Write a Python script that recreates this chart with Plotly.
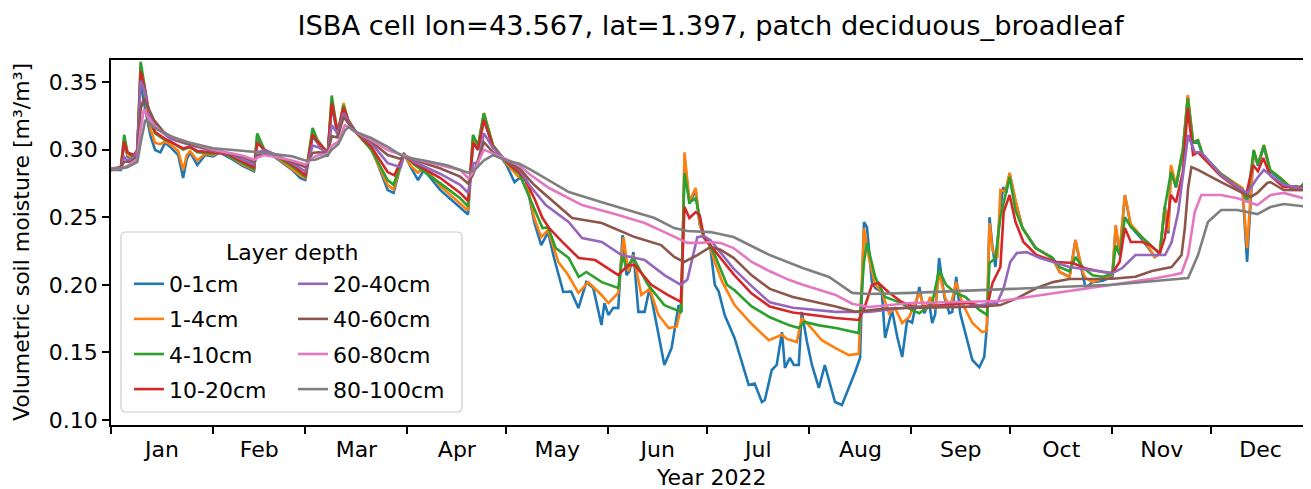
import pandas as pd
import plotly.graph_objects as go

START = pd.Timestamp("2022-01-01")

layer_names = ["0-1cm", "1-4cm", "4-10cm", "10-20cm", "20-40cm", "40-60cm", "60-80cm", "80-100cm"]
layer_colors = ["#1f77b4", "#ff7f0e", "#2ca02c", "#d62728", "#9467bd", "#8c564b", "#e377c2", "#7f7f7f"]

# day offsets (from 2022-01-01) and volumetric soil moisture values
d_0_1 = [0, 3, 4, 5, 7, 8, 9, 10, 12, 13.4, 15, 16.4, 18, 20.4, 21.9, 23, 24, 26.2, 28.6, 31, 33, 36, 40, 43.4, 44.4, 46.5, 50, 55, 57.5, 59,
         61.2, 62.7, 65.8, 67, 68.8, 70.6, 72, 74.3, 79, 84, 85.8, 88.9, 91, 93.2, 95, 100, 106, 108.4, 109.9, 111.4, 113.2, 116, 120,
         122.5, 124, 126, 128.5, 130.6, 132.7, 134.5, 137.3, 139.7, 141.9, 144.3, 146.4, 148.9, 149.8, 151, 152.5, 154, 155.3, 156.5,
         157.4, 158.6, 160.1, 162, 163.5, 166.2, 168, 170.2, 172.3, 173.2, 174.1, 175.6, 177.5, 178.7, 179.9, 181.7, 183.3, 184.5,
         186.3, 189.3, 191.5, 193.6, 195.4, 197.6, 198.5, 200.6, 202.1, 203.7, 204.6, 206.1, 207.3, 208.8, 209.7, 211.3, 212.8,
         214.9, 216.7, 218.3, 219.8, 221.9, 224, 225.9, 227.4, 228.6, 229.5, 231, 232, 234, 235, 237.1, 238.7, 240.2, 241.7, 243.2,
         245.4, 246.9, 248.4, 249.3, 250.2, 251.4, 253, 254.5, 255.4, 256.6, 257.8, 259.4, 261.5, 263.6, 265.1, 266, 266.7, 267.6,
         268.5, 270, 270.9, 271.8, 272.8, 274.6, 276.7, 280.7, 285.8, 288, 291, 292.8, 294, 295.9, 298, 301.1, 304, 305, 306.2,
         307.8, 309.6, 313.2, 316.9, 318.4, 319.9, 321, 321.8, 323.3, 325.4, 326.9, 328.5, 330, 331.5, 336.7, 343.5, 344.9, 346.9,
         348.2, 350, 351.9, 355, 358, 361, 364]
v_0_1 = [0.285, 0.285, 0.305, 0.295, 0.292, 0.300, 0.352, 0.335, 0.310, 0.2997, 0.298, 0.305, 0.302, 0.296, 0.279, 0.293, 0.298, 0.2886,
         0.296, 0.295, 0.298, 0.294, 0.288, 0.284, 0.309, 0.299, 0.294, 0.285, 0.279, 0.2775,
         0.310, 0.305, 0.295, 0.333, 0.310, 0.331, 0.320, 0.313, 0.302, 0.2701, 0.268, 0.2975, 0.287, 0.2775, 0.285, 0.270, 0.257,
         0.252, 0.305, 0.300, 0.322, 0.302, 0.289,
         0.276, 0.279, 0.277, 0.2464, 0.2294, 0.239, 0.2198, 0.1947, 0.195, 0.1828, 0.202, 0.1976, 0.1703, 0.1865, 0.1777, 0.183,
         0.1828, 0.2368, 0.2072, 0.210, 0.2242, 0.180, 0.180, 0.1976, 0.165, 0.1407, 0.1533, 0.185, 0.180, 0.292, 0.260, 0.270,
         0.245, 0.236, 0.233, 0.200, 0.195,
         0.1777, 0.1607, 0.143, 0.1259, 0.127, 0.1133, 0.1148, 0.137, 0.1407, 0.165, 0.1385, 0.1459, 0.1407, 0.1407, 0.180, 0.1577,
         0.1407, 0.1237, 0.1407, 0.1259, 0.1133, 0.1111, 0.1237, 0.1355, 0.1459, 0.2464, 0.2427, 0.202, 0.1976, 0.195, 0.1607,
         0.1814, 0.1614, 0.1466, 0.174, 0.172,
         0.1984, 0.179, 0.1865, 0.1717, 0.178, 0.2198, 0.191, 0.179, 0.180, 0.2058, 0.179, 0.1643, 0.1444, 0.139, 0.1466, 0.1717,
         0.250, 0.228, 0.2132, 0.2568, 0.2723, 0.268, 0.2827, 0.262, 0.242, 0.2272, 0.2198, 0.2095, 0.2058, 0.2331, 0.218, 0.1976,
         0.202, 0.203, 0.206, 0.243, 0.222,
         0.2664, 0.243, 0.233, 0.2206, 0.223, 0.258, 0.238, 0.287, 0.272, 0.298, 0.339, 0.305, 0.306, 0.295, 0.282, 0.271, 0.2169,
         0.299, 0.288, 0.302, 0.284, 0.278, 0.272, 0.271, 0.276]

d_1_4 = [0, 3, 4, 5, 7, 8, 9, 10, 12, 13.4, 15, 16.4, 18, 20.4, 21.9, 23, 24, 26.2, 28.6, 31, 33, 36, 40, 43.4, 44.4, 46.5, 50, 55, 57.5, 59,
         61.2, 62.7, 65.8, 67, 68.8, 70.6, 72, 74.3, 79, 84, 85.8, 88.9, 91, 93.2, 95, 100, 106, 108.4, 109.9, 111.4, 113.2, 116, 120,
         123.6, 126, 128.5, 130.6, 132.7, 135.8, 138.8, 141.9, 144.9, 148.9, 151, 154, 155.6, 157, 158.6, 161, 163.5, 166.2, 169.3,
         171.7, 173.2, 174.1, 175.6, 177.5, 178.7, 179.9, 181.7, 183.3, 185.6, 189.3, 194.5, 199.7, 203.7, 205.2, 208.2, 209.7,
         211.9, 215.8, 219.8, 224, 227, 228.6, 230.1, 232, 234, 236.2, 238, 240.2, 242.3, 245.4, 247.2, 248.7, 250.2, 251.4, 253.3,
         254.8, 256.6, 258.4, 261.5, 264.5, 265.8, 266.7, 267.6, 269.1, 270, 271.5, 272.8, 274.6, 276.7, 280.7, 285.8, 288, 291,
         292.8, 295, 295.9, 298, 301.1, 304, 305, 306.2, 307.8, 309.6, 313.2, 316.9, 318.4, 319.9, 321, 321.8, 323.3, 325.4, 326.9,
         328.5, 330, 331.5, 336.7, 343.5, 344.9, 346.9, 348.2, 350, 351.9, 355, 358, 361, 364]
v_1_4 = [0.285, 0.286, 0.308, 0.296, 0.293, 0.300, 0.362, 0.345, 0.315, 0.305, 0.304, 0.306, 0.304, 0.299, 0.285, 0.296, 0.299, 0.292,
         0.297, 0.296, 0.299, 0.295, 0.289, 0.285, 0.311, 0.300, 0.295, 0.286, 0.281, 0.279,
         0.314, 0.306, 0.296, 0.337, 0.311, 0.3345, 0.321, 0.313, 0.300, 0.2738, 0.2705, 0.2975, 0.288, 0.283, 0.287, 0.273, 0.260,
         0.255, 0.310, 0.302, 0.327, 0.303, 0.290,
         0.280, 0.278, 0.2494, 0.2353, 0.2405, 0.2169, 0.2072, 0.194, 0.202, 0.1925, 0.1865, 0.194, 0.2353, 0.210, 0.222, 0.1925,
         0.197, 0.1777, 0.168, 0.169, 0.185, 0.298, 0.262, 0.2716, 0.2457, 0.2353, 0.2294, 0.2169, 0.202, 0.185, 0.171, 0.159,
         0.163, 0.160, 0.1577, 0.1755, 0.170, 0.159, 0.1533, 0.148, 0.149, 0.242, 0.2198, 0.200, 0.195, 0.179, 0.1828, 0.1717,
         0.1762, 0.194, 0.1814, 0.191, 0.182, 0.2095, 0.190, 0.1836, 0.202, 0.1865, 0.1717, 0.165, 0.166, 0.2457, 0.2257, 0.220,
         0.2701, 0.269, 0.2827, 0.262, 0.242, 0.2272, 0.2198, 0.2095, 0.2058, 0.2331, 0.2095, 0.205, 0.202, 0.205, 0.2072, 0.2442,
         0.225, 0.2664, 0.245, 0.2346, 0.2206, 0.224, 0.2575, 0.240, 0.2886, 0.2738, 0.300, 0.3404, 0.3055, 0.307, 0.296, 0.2827,
         0.2716, 0.2272, 0.2997, 0.289, 0.3034, 0.285, 0.279, 0.2723, 0.2716, 0.2775]

d_4_10 = [0, 3, 4, 5, 7, 8, 9, 10, 12, 13.4, 16.4, 18, 20.4, 21.9, 24, 26.2, 31, 33, 36, 40, 43.4, 44.4, 46.5, 50, 55, 59,
          61.2, 62.7, 65.8, 67, 68.8, 70.6, 72, 74.3, 79, 84, 85.8, 88.9, 92, 100, 106, 108.4, 109.9, 111.4, 113.2, 116, 120,
          124, 128.5, 131, 132.7, 135, 139, 142, 144.3, 149, 154, 155.3, 156.5, 158.6, 163, 168, 173, 174.1, 175.6, 177.5, 178.7,
          179.9, 181.7, 183.3, 187, 189.3, 194.5, 200, 206, 208.8, 210.5, 215, 220, 227, 228.6, 229.5, 232, 235, 240, 243, 245.4,
          249.3, 251.4, 253.5, 256.3, 259.4, 263.6, 266, 266.7, 268.5, 270, 271, 272.8, 274.6, 276.7, 280.7, 285.8, 288, 291, 292.8,
          295, 298, 301.1, 304, 305, 306.2, 307.8, 309.6, 313.2, 316.9, 318.4, 319.9, 321.8, 323.3, 325.4, 326.9, 328.5, 330, 331.5,
          336.7, 343.5, 344.9, 346.9, 348.2, 350, 351.9, 355, 358, 359.8, 361, 363, 364]
v_4_10 = [0.285, 0.287, 0.311, 0.298, 0.294, 0.300, 0.365, 0.350, 0.320, 0.312, 0.307, 0.306, 0.302, 0.300, 0.302, 0.298, 0.297, 0.299,
          0.295, 0.290, 0.2855, 0.312, 0.300, 0.2955, 0.2875, 0.280,
          0.316, 0.307, 0.2975, 0.340, 0.312, 0.333, 0.322, 0.313, 0.300, 0.2775, 0.274, 0.2965, 0.289, 0.275, 0.264, 0.258, 0.311,
          0.303, 0.327, 0.303, 0.291,
          0.282, 0.2568, 0.242, 0.2425, 0.2272, 0.2198, 0.2058, 0.2095, 0.202, 0.1976, 0.222, 0.2124, 0.2198, 0.200, 0.185, 0.180,
          0.2827, 0.261, 0.264, 0.250, 0.2353, 0.2294, 0.222, 0.200, 0.196, 0.184, 0.176, 0.170, 0.168, 0.1725, 0.170, 0.168, 0.1643,
          0.2169, 0.231, 0.2058, 0.191, 0.1865, 0.1814, 0.179, 0.1865, 0.2109, 0.200, 0.194, 0.191, 0.1814, 0.1777, 0.2161, 0.2198,
          0.250, 0.2605, 0.2797, 0.255, 0.242, 0.2272, 0.220, 0.213, 0.210, 0.2206, 0.213, 0.207, 0.206, 0.208, 0.229, 0.222, 0.250,
          0.243, 0.235, 0.227, 0.223, 0.2568, 0.2834, 0.2723, 0.300, 0.338, 0.3055, 0.307, 0.296, 0.2827, 0.270, 0.261, 0.2997,
          0.289, 0.3034, 0.285, 0.279, 0.2723, 0.273, 0.272, 0.2775, 0.272]

d_10_20 = [0, 3, 4, 5, 7, 8, 9, 10, 12, 13.4, 16.4, 18, 21.9, 24, 26.2, 31, 36, 40, 43.4, 44.4, 46.5, 50, 55, 59,
           61.2, 62.7, 65.8, 67, 68.8, 70.6, 72, 74.3, 79, 84, 86, 88.9, 92, 100, 106, 108.4, 109.9, 111.4, 113.2, 116, 120,
           124, 125.5, 128.5, 131, 133, 137, 142, 147, 154, 157, 159, 164, 169, 173, 174.1, 175.6, 177.5, 178.7, 180, 182, 186,
           189.3, 194.5, 200, 207, 220, 227, 228.6, 231, 233, 236, 240, 244, 250, 260, 266, 267.6, 270, 271, 272.8, 274.6, 277,
           281, 287, 292, 296, 301.1, 304, 306.2, 307.8, 309.6, 313, 315.4, 318.4, 319.9, 321.8, 323.3, 325.4, 326.9, 328.5, 330,
           336.7, 341.6, 344.6, 346.7, 348.2, 349.8, 351.9, 355.9, 361.9, 364]
v_10_20 = [0.285, 0.287, 0.306, 0.298, 0.296, 0.300, 0.358, 0.348, 0.322, 0.313, 0.308, 0.306, 0.301, 0.302, 0.299, 0.298, 0.296, 0.291,
           0.287, 0.305, 0.300, 0.296, 0.289, 0.281,
           0.311, 0.306, 0.2975, 0.3345, 0.313, 0.331, 0.322, 0.313, 0.302, 0.2834, 0.281, 0.296, 0.290, 0.279, 0.268, 0.262, 0.305,
           0.300, 0.322, 0.302, 0.291,
           0.283, 0.279, 0.264, 0.2494, 0.242, 0.2317, 0.2198, 0.2183, 0.2072, 0.2146, 0.2146, 0.200, 0.1925, 0.1873, 0.2575, 0.2494,
           0.2538, 0.2516, 0.2353, 0.229, 0.2169, 0.207, 0.1935, 0.184, 0.1795, 0.1755, 0.174, 0.182, 0.200, 0.2013, 0.1947, 0.1873,
           0.1836, 0.1845, 0.1865, 0.1836, 0.2013, 0.2132, 0.2538, 0.2664, 0.2464, 0.2317, 0.222, 0.2169, 0.2161, 0.212, 0.2095,
           0.2087, 0.2169, 0.242, 0.2317, 0.2317, 0.2294, 0.2235, 0.2346, 0.2664, 0.261, 0.2834, 0.3307, 0.296, 0.298, 0.281, 0.272,
           0.2664, 0.2886, 0.284, 0.2938, 0.281, 0.2723, 0.2723, 0.2716]

d_20_40 = [0, 3, 4, 5, 7, 8, 9, 10, 12, 14, 18, 24, 31, 36, 40, 43.4, 44.4, 46.5, 50, 55, 59, 61.2, 62.7, 65.8, 67, 68.8, 70.6, 72,
           74.3, 79, 84, 88, 89, 92, 100, 106, 108.4, 110, 111.4, 113.2, 116, 120, 124, 127, 132, 139, 143, 149, 155, 162, 168, 173,
           175, 178, 180, 182, 189, 194.5, 200, 207, 220, 230, 243, 260, 269, 271, 273, 275, 278, 282, 291, 297, 304, 307, 311, 320,
           322, 324, 327, 329, 331, 337, 342, 345, 348, 350, 352, 356, 364]
v_20_40 = [0.285, 0.287, 0.2945, 0.292, 0.294, 0.300, 0.351, 0.345, 0.323, 0.316, 0.308, 0.3035, 0.299, 0.297, 0.2925, 0.289, 0.298,
           0.2995, 0.2965, 0.290, 0.284, 0.303, 0.302, 0.2975, 0.318, 0.312, 0.327, 0.321, 0.313, 0.305, 0.290, 0.287, 0.296, 0.291,
           0.282, 0.274, 0.268, 0.290, 0.290, 0.312, 0.301, 0.292, 0.285, 0.2738, 0.259, 0.2464, 0.2346, 0.2317, 0.222, 0.2183,
           0.2072, 0.200, 0.204, 0.2353, 0.236, 0.233, 0.212, 0.199, 0.187, 0.183, 0.180, 0.180, 0.1836, 0.184, 0.1865, 0.1976,
           0.2169, 0.2235, 0.2242, 0.2198, 0.2132, 0.2109, 0.2087, 0.2124, 0.222, 0.222, 0.2317, 0.2538, 0.3108, 0.2982, 0.298,
           0.2812, 0.2723, 0.268, 0.279, 0.285, 0.281, 0.274, 0.2701]

d_40_60 = [0, 3, 4, 6, 8, 9, 10, 11, 13, 16, 20, 24, 31, 40, 43.4, 44.4, 46.5, 50, 55, 59, 61.2, 63, 65.8, 67, 68.8, 70.6, 72, 74.3,
           79, 84, 88, 89, 92, 100, 106, 108.4, 110, 113.2, 116, 120, 124, 128.5, 133, 140, 149, 159, 167, 171, 174, 178, 182, 185,
           189, 194.5, 200, 207, 220, 226, 235, 243, 265, 270, 275, 281, 286, 291, 304, 311, 316, 322, 325, 326, 327, 328, 330, 337,
           342, 346, 348, 351, 352, 356, 364]
v_40_60 = [0.286, 0.287, 0.291, 0.291, 0.295, 0.330, 0.338, 0.333, 0.322, 0.313, 0.307, 0.304, 0.2995, 0.2945, 0.291, 0.2955, 0.2975,
           0.295, 0.291, 0.287, 0.2975, 0.298, 0.2975, 0.310, 0.309, 0.324, 0.320, 0.313, 0.306, 0.296, 0.293, 0.296, 0.2925, 0.286,
           0.280, 0.275, 0.282, 0.3055, 0.298, 0.292, 0.286, 0.2738, 0.264, 0.2494, 0.2457, 0.2353, 0.2294, 0.2206, 0.2169, 0.222,
           0.228, 0.226, 0.220, 0.207, 0.197, 0.191, 0.184, 0.180, 0.1825, 0.1828, 0.184, 0.185, 0.190, 0.1976, 0.202, 0.2043,
           0.2045, 0.206, 0.2102, 0.2132, 0.222, 0.242, 0.2716, 0.2871, 0.285, 0.276, 0.2701, 0.265, 0.268, 0.2753, 0.276, 0.2701,
           0.270]

d_60_80 = [0, 3, 5, 8, 9, 10, 11, 13, 16, 20, 24, 31, 40, 43.4, 44.4, 46.5, 50, 55, 59, 61.2, 63, 65.8, 67, 69, 71, 72, 74.3, 79,
           84, 88, 89, 92, 102, 106, 108.4, 110, 113.2, 116, 120, 124, 127.5, 133, 143, 154, 162, 170, 175, 179, 182, 185, 189, 194.5,
           200, 206, 210, 220, 225, 230, 243, 270, 304, 315, 322, 325, 327, 329, 331, 337, 342, 348, 352, 356, 364]
v_60_80 = [0.286, 0.286, 0.288, 0.293, 0.315, 0.330, 0.325, 0.318, 0.312, 0.308, 0.305, 0.300, 0.2955, 0.2925, 0.294, 0.296, 0.2945,
           0.292, 0.289, 0.294, 0.296, 0.297, 0.303, 0.306, 0.318, 0.317, 0.313, 0.307, 0.2997, 0.296, 0.2955, 0.293, 0.287, 0.285,
           0.279, 0.283, 0.300, 0.297, 0.293, 0.288, 0.281, 0.2716, 0.259, 0.2516, 0.2457, 0.2368, 0.231, 0.231, 0.2317, 0.231,
           0.2272, 0.2169, 0.210, 0.2035, 0.200, 0.1925, 0.186, 0.1836, 0.1865, 0.188, 0.200, 0.204, 0.207, 0.2087, 0.222, 0.2538,
           0.2664, 0.2664, 0.264, 0.259, 0.2664, 0.268, 0.2627]

d_80_100 = [0, 3, 5, 8, 9, 10.4, 12, 14, 18, 24, 31, 45, 55, 59, 62, 65.8, 67, 69, 71, 72.1, 74.3, 79, 84, 89, 95, 102, 108.4, 110,
            113.2, 116, 120, 124, 127.5, 139, 149, 159, 165, 171, 175, 182, 189, 200, 210, 218, 225, 230, 243, 304, 327, 330, 333,
            337, 342, 348, 352, 356, 364]
v_80_100 = [0.286, 0.286, 0.287, 0.291, 0.305, 0.322, 0.3185, 0.315, 0.310, 0.305, 0.301, 0.298, 0.295, 0.292, 0.2925, 0.296, 0.300,
            0.304, 0.314, 0.3167, 0.313, 0.3086, 0.302, 0.2945, 0.292, 0.2885, 0.283, 0.284, 0.292, 0.296, 0.292, 0.2895, 0.285,
            0.2686, 0.261, 0.2538, 0.2494, 0.242, 0.2398, 0.239, 0.2353, 0.222, 0.2124, 0.2058, 0.194, 0.1932, 0.194, 0.200, 0.205,
            0.222, 0.2464, 0.2553, 0.2553, 0.2523, 0.2575, 0.2598, 0.2575]

y_ticks = [0.10, 0.15, 0.20, 0.25, 0.30, 0.35]
title_text = "ISBA cell lon=43.567, lat=1.397, patch deciduous_broadleaf"
x_title = "Year 2022"
y_title = "Volumetric soil moisture [m³/m³]"
legend_title = "Layer depth"

series_days = [d_0_1, d_1_4, d_4_10, d_10_20, d_20_40, d_40_60, d_60_80, d_80_100]
series_vals = [v_0_1, v_1_4, v_4_10, v_10_20, v_20_40, v_40_60, v_60_80, v_80_100]

FONT = "DejaVu Sans"
fig = go.Figure()
for i, (name, color, days, vals) in enumerate(zip(layer_names, layer_colors, series_days, series_vals)):
    dates = [START + pd.Timedelta(days=float(d)) for d in days]
    fig.add_trace(go.Scatter(
        x=dates, y=vals, mode="lines", name=name,
        line=dict(color=color, width=2.6),
        legend="legend" if i < 4 else "legend2",
        legendgroup=name,
    ))

# the page body adds an 8px margin, so the figure is sized to fit the window after that offset
OFF = 8
W, H = 1311 - OFF, 489 - OFF
PLOT_L, PLOT_R, PLOT_T, PLOT_B = 111, 1310, 60, 425   # target screen positions of the plot frame
ml, mr, mt = PLOT_L - OFF, 1311 - PLOT_R, PLOT_T - OFF
mb = H - (PLOT_B - OFF)
pw, ph = PLOT_R - PLOT_L, PLOT_B - PLOT_T

def px_x(p):
    return (p - PLOT_L) / pw

def px_y(p):
    return (PLOT_B - p) / ph

# legend frame (rounded box)
x0, x1 = px_x(121), px_x(462)
y0, y1 = px_y(412), px_y(232)
rx, ry = 5 / pw, 5 / ph
path = (f"M {x0+rx},{y0} L {x1-rx},{y0} Q {x1},{y0} {x1},{y0+ry} L {x1},{y1-ry} Q {x1},{y1} {x1-rx},{y1} "
        f"L {x0+rx},{y1} Q {x0},{y1} {x0},{y1-ry} L {x0},{y0+ry} Q {x0},{y0} {x0+rx},{y0} Z")

legend_common = dict(
    bgcolor="rgba(0,0,0,0)", borderwidth=0, font=dict(family=FONT, size=22, color="black"),
    xanchor="left", yanchor="top", tracegroupgap=3.5, orientation="v",
)

axis_common = dict(
    showline=True, linecolor="black", linewidth=1.6, mirror=True,
    ticks="outside", ticklen=7, tickwidth=1.6, tickcolor="black",
    showgrid=False, zeroline=False, automargin=False,
    tickfont=dict(family=FONT, size=22, color="black"),
)

fig.update_layout(
    width=W, height=H,
    margin=dict(l=ml, r=mr, t=mt, b=mb, autoexpand=False),
    paper_bgcolor="white", plot_bgcolor="white",
    font=dict(family=FONT, size=22, color="black"),
    title=dict(text=title_text, x=0.5, xref="paper", xanchor="center",
               y=1 - (25 - OFF) / H, yref="container", yanchor="middle",
               font=dict(family=FONT, size=27.3, color="black")),
    xaxis=dict(
        range=[START, pd.Timestamp("2022-12-31")],
        tick0="2022-01-01", dtick="M1", tickformat="%b", ticklabelmode="period",
        ticklabelstandoff=-3,
        **axis_common,
    ),
    yaxis=dict(
        range=[0.0963, 0.3663],
        tickvals=y_ticks, tickformat=".2f",
        **axis_common,
    ),
    legend=dict(x=px_x(129), y=px_y(263), **legend_common),
    legend2=dict(x=px_x(293), y=px_y(263), **legend_common),
    shapes=[dict(type="path", path=path, xref="paper", yref="paper",
                 line=dict(color="#cccccc", width=1.2), fillcolor="rgba(255,255,255,0.8)", layer="above")],
    annotations=[
        dict(text=legend_title, x=px_x(291.5), y=px_y(252), xref="paper", yref="paper",
             xanchor="center", yanchor="middle", showarrow=False,
             font=dict(family=FONT, size=22, color="black")),
        dict(text=x_title, x=px_x(711), y=px_y(477), xref="paper", yref="paper",
             xanchor="center", yanchor="middle", showarrow=False,
             font=dict(family=FONT, size=22, color="black")),
        dict(text=y_title, x=px_x(22), y=px_y(242), xref="paper", yref="paper",
             xanchor="center", yanchor="middle", showarrow=False, textangle=-90,
             font=dict(family=FONT, size=22, color="black")),
    ],
    showlegend=True,
)

fig.write_html("out.html")
